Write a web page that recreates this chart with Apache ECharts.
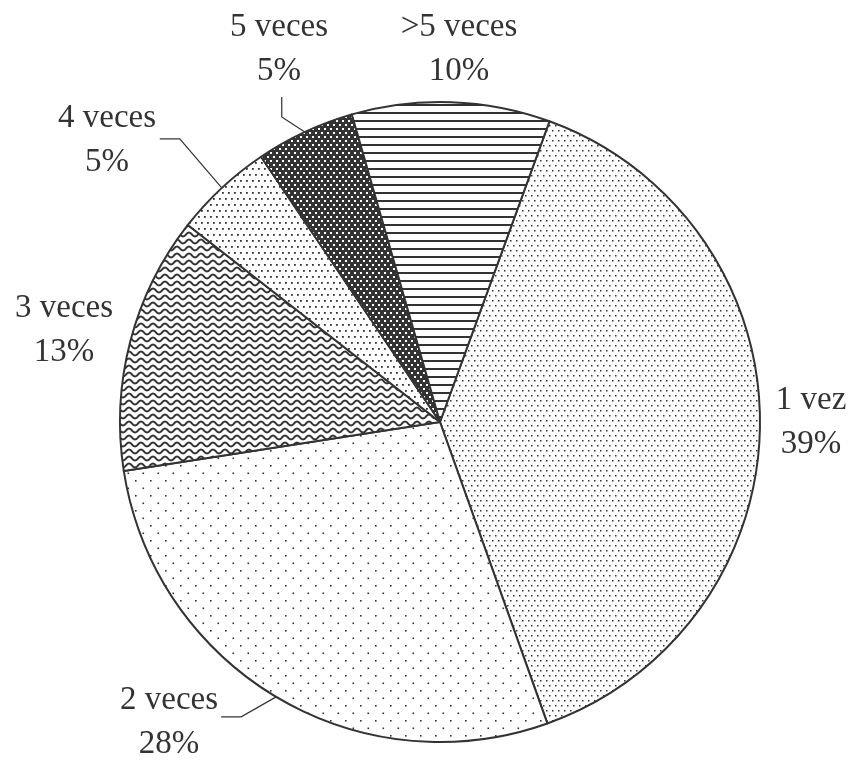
<!DOCTYPE html>
<html>
<head>
<meta charset="utf-8">
<script src="https://cdn.jsdelivr.net/npm/echarts@6/dist/echarts.min.js"></script>
<style>
html,body{margin:0;padding:0;background:#fff;}
#chart{width:849px;height:760px;}
</style>
</head>
<body>
<div id="chart"></div>
<script>
const categories = ['1 vez', '2 veces', '3 veces', '4 veces', '5 veces', '>5 veces'];
const values = [39, 28, 13, 5, 5, 10];
const showLine = [false, true, false, true, true, false];

const INK = '#333';
function mk(w, h, bg, draw) {
  const c = document.createElement('canvas');
  c.width = w; c.height = h;
  const g = c.getContext('2d');
  g.fillStyle = bg; g.fillRect(0, 0, w, h);
  draw(g);
  return { image: c, repeat: 'repeat' };
}
function dots(pts, s, col) {
  return function (g) { g.fillStyle = col; pts.forEach(p => g.fillRect(p[0], p[1], s, s)); };
}
const patterns = [
  mk(6, 10, '#fff', dots([[0, 0], [3, 5]], 1.5, INK)),
  mk(15, 15, '#fff', dots([[0, 0], [7.5, 7.5]], 1.6, INK)),
  mk(12, 7, '#fff', function (g) {
    g.strokeStyle = INK; g.lineWidth = 1.9; g.beginPath();
    for (let x = -1; x <= 13; x += 0.5) {
      const y = 3.5 + 2.0 * Math.sin(2 * Math.PI * x / 12);
      if (x === -1) g.moveTo(x, y); else g.lineTo(x, y);
    }
    g.stroke();
  }),
  mk(6, 12, '#fff', dots([[0, 0], [3, 6]], 1.8, INK)),
  mk(6, 8, INK, dots([[0, 0], [3, 4]], 2, '#fff')),
  mk(1, 8, '#fff', function (g) { g.fillStyle = INK; g.fillRect(0, 0, 1, 2); })
];

// label anchor (centre of the two-line text block), per slice
const labelPos = [[811, 422], [169, 722], [64, 330], [107, 140], [279, 49], [459, 49]];
// label-line bends relative to the slice edge point
const bend = [null, [[-35, 20], [-55, 20]], null, [[-42, -49], [-62, -49]], [[-23, -15], [-23, -35]], null];

const chart = echarts.init(document.getElementById('chart'));
chart.setOption({
  animation: false,
  backgroundColor: '#fff',
  series: [{
    type: 'pie',
    center: [440, 422],
    radius: 320,
    startAngle: 70,
    clockwise: true,
    avoidLabelOverlap: false,
    percentPrecision: 0,
    data: categories.map((c, i) => ({
      name: c,
      value: values[i],
      itemStyle: { color: patterns[i] },
      labelLine: { show: showLine[i] }
    })),
    itemStyle: { borderColor: INK, borderWidth: 2 },
    label: {
      show: true,
      position: 'outside',
      formatter: '{b}\n{d}%',
      fontFamily: 'Liberation Serif',
      fontSize: 33,
      lineHeight: 44,
      color: INK,
      align: 'center'
    },
    labelLine: { show: true, length: 20, length2: 20, lineStyle: { color: INK, width: 1.2 } },
    emphasis: { disabled: true },
    labelLayout: function (p) {
      const i = p.dataIndex;
      const out = { x: labelPos[i][0], y: labelPos[i][1], align: 'center', verticalAlign: 'middle', hideOverlap: false };
      if (bend[i] && p.labelLinePoints) {
        const p0 = p.labelLinePoints[0];
        out.labelLinePoints = [
          [p0[0], p0[1]],
          [p0[0] + bend[i][0][0], p0[1] + bend[i][0][1]],
          [p0[0] + bend[i][1][0], p0[1] + bend[i][1][1]]
        ];
      }
      return out;
    }
  }]
});
</script>
</body>
</html>
